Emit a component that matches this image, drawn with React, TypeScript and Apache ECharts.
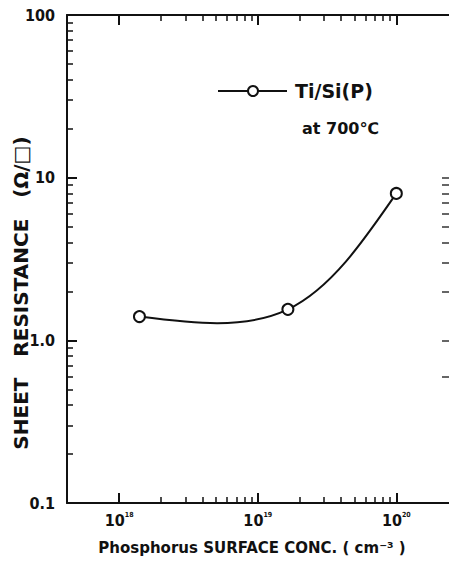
import React, { useEffect, useRef } from "react";
import * as echarts from "echarts";

// Data
const conc = [1.4e18, 1.65e19, 1.0e20]; // cm^-3
const resistance = [1.4, 1.55, 8.0]; // ohm/sq

// Axis ticks
const xMajorTicks = [1e18, 1e19, 1e20];
const xMinorTicks: number[] = [];
[1e18, 1e19].forEach((d) => {
  for (let k = 2; k <= 9; k++) xMinorTicks.push(k * d);
});
const yMajorTicks = [0.1, 1, 10, 100];
const yMinorTicks: number[] = [];
[0.1, 1, 10].forEach((d) => {
  for (let k = 2; k <= 9; k++) yMinorTicks.push(k * d);
});
const yRightTicks = [10, 9, 8, 7, 6, 5, 4, 3, 2, 1, 0.6];
const yLabelText: Record<string, string> = { "100": "100", "10": "10", "1": "1.0", "0.1": "0.1" };

const xTitle = "Phosphorus SURFACE CONC. ( cm⁻³ )";
const yTitleMain = "SHEET   RESISTANCE   (Ω/";
const yTitleBox = "□";
const yTitleEnd = ")";
const legendLabel = "Ti/Si(P)";
const legendNote = "at 700℃";

const X_MIN = 4.2e17;
const X_MAX = 2.4e20;
const FONT = "'DejaVu Sans', sans-serif";
const FONT_C = "'DejaVu Sans Condensed', 'DejaVu Sans', sans-serif";
const INK = "#111";

// Smooth curve through the measured points: uniform Hermite (Catmull-Rom)
// spline with natural end conditions, computed in pixel space.
function renderCurve(_params: any, api: any) {
  const P = conc.map((c, i) => api.coord([c, resistance[i]]) as number[]);
  const n = P.length;
  const m: number[][] = [];
  for (let i = 1; i < n - 1; i++) {
    m[i] = [(P[i + 1][0] - P[i - 1][0]) / 2, (P[i + 1][1] - P[i - 1][1]) / 2];
  }
  m[0] = [(3 * (P[1][0] - P[0][0]) - m[1][0]) / 2, (3 * (P[1][1] - P[0][1]) - m[1][1]) / 2];
  m[n - 1] = [
    (3 * (P[n - 1][0] - P[n - 2][0]) - m[n - 2][0]) / 2,
    (3 * (P[n - 1][1] - P[n - 2][1]) - m[n - 2][1]) / 2,
  ];
  let d = `M${P[0][0]},${P[0][1]}`;
  for (let i = 0; i < n - 1; i++) {
    const c1 = [P[i][0] + m[i][0] / 3, P[i][1] + m[i][1] / 3];
    const c2 = [P[i + 1][0] - m[i + 1][0] / 3, P[i + 1][1] - m[i + 1][1] / 3];
    d += ` C${c1[0]},${c1[1]} ${c2[0]},${c2[1]} ${P[i + 1][0]},${P[i + 1][1]}`;
  }
  return {
    type: "path",
    shape: { pathData: d },
    style: { fill: "none", stroke: INK, lineWidth: 2 },
  };
}

export default function App() {
  const ref = useRef<HTMLDivElement>(null);
  useEffect(() => {
    if (!ref.current) return;
    const chart = echarts.init(ref.current, null, { renderer: "svg" });
    const xBase = {
      type: "log" as const,
      min: X_MIN,
      max: X_MAX,
      splitLine: { show: false },
    };
    const yBase = {
      type: "log" as const,
      min: 0.1,
      max: 100,
      splitLine: { show: false },
    };
    chart.setOption({
      animation: false,
      backgroundColor: "#fff",
      grid: { left: 67, top: 15, right: 0, bottom: 59, containLabel: false },
      xAxis: [
        {
          ...xBase,
          position: "bottom",
          axisLine: { show: true, lineStyle: { color: INK, width: 2 } },
          axisTick: { show: true, inside: true, length: 10, lineStyle: { color: INK, width: 2 }, customValues: xMajorTicks },
          axisLabel: {
            show: true,
            customValues: xMajorTicks,
            margin: 8,
            fontSize: 16,
            formatter: (v: number) => `{b|10}{s|${Math.round(Math.log10(v))}}`,
            rich: {
              b: { fontSize: 16, fontFamily: FONT_C, fontWeight: "bold", color: INK },
              s: { fontSize: 7, fontFamily: FONT_C, color: INK, fontWeight: "bold", padding: [0, 0, 12, 0] },
            },
          },
        },
        {
          ...xBase,
          position: "bottom",
          axisLine: { show: false },
          axisTick: { show: true, inside: true, length: 6, lineStyle: { color: INK, width: 1.5 }, customValues: xMinorTicks },
          axisLabel: { show: false },
        },
        {
          ...xBase,
          position: "top",
          axisLine: { show: true, lineStyle: { color: INK, width: 2 } },
          axisTick: { show: true, inside: true, length: 10, lineStyle: { color: INK, width: 2 }, customValues: xMajorTicks },
          axisLabel: { show: false },
        },
        {
          ...xBase,
          position: "top",
          axisLine: { show: false },
          axisTick: { show: true, inside: true, length: 6, lineStyle: { color: INK, width: 1.5 }, customValues: xMinorTicks },
          axisLabel: { show: false },
        },
      ],
      yAxis: [
        {
          ...yBase,
          position: "left",
          axisLine: { show: true, lineStyle: { color: INK, width: 2 } },
          axisTick: { show: true, inside: true, length: 10, lineStyle: { color: INK, width: 2 }, customValues: yMajorTicks },
          axisLabel: {
            show: true,
            customValues: yMajorTicks,
            margin: 12,
            fontSize: 16,
            fontWeight: "bold",
            fontFamily: FONT_C,
            color: INK,
            formatter: (v: number) => yLabelText[String(+v.toPrecision(3))] ?? String(v),
          },
        },
        {
          ...yBase,
          position: "left",
          axisLine: { show: false },
          axisTick: { show: true, inside: true, length: 6, lineStyle: { color: INK, width: 1.5 }, customValues: yMinorTicks },
          axisLabel: { show: false },
        },
        {
          ...yBase,
          position: "right",
          axisLine: { show: false },
          axisTick: { show: true, inside: true, length: 7, lineStyle: { color: "#333", width: 1.5 }, customValues: yRightTicks },
          axisLabel: { show: false },
        },
      ],
      graphic: [
        { type: "line", shape: { x1: 218, y1: 91, x2: 287, y2: 91 }, style: { stroke: INK, lineWidth: 2 } },
        { type: "circle", shape: { cx: 253, cy: 91, r: 5 }, style: { fill: "#fff", stroke: INK, lineWidth: 2 } },
        { type: "text", x: 295, y: 91, style: { text: legendLabel, fontSize: 19, fontWeight: "bold", fontFamily: FONT, fill: INK, verticalAlign: "middle" } },
        { type: "text", x: 302, y: 128, style: { text: legendNote, fontSize: 16, fontWeight: "bold", fontFamily: FONT, fill: INK, verticalAlign: "middle" } },
        {
          type: "text",
          x: 252,
          y: 548,
          style: { text: xTitle, fontSize: 15, fontWeight: "bold", fontFamily: FONT, fill: INK, align: "center", verticalAlign: "middle" },
        },
        {
          type: "text",
          x: 21,
          y: 293,
          rotation: Math.PI / 2,
          style: {
            text: `{b|${yTitleMain}}{n|${yTitleBox}}{b|${yTitleEnd}}`,
            fontSize: 20,
            fontWeight: "bold",
            fontFamily: FONT,
            fill: INK,
            align: "center",
            verticalAlign: "middle",
            rich: {
              b: { fontSize: 20, fontWeight: "bold", fontFamily: FONT, fill: INK },
              n: { fontSize: 20, fontWeight: "normal", fontFamily: "'DejaVu Sans'", fill: INK },
            },
          },
        },
      ],
      series: [
        {
          type: "custom",
          name: "curve",
          xAxisIndex: 0,
          yAxisIndex: 0,
          data: [0],
          renderItem: renderCurve,
          z: 2,
          silent: true,
        },
        {
          type: "scatter",
          name: legendLabel,
          xAxisIndex: 0,
          yAxisIndex: 0,
          data: conc.map((c, i) => [c, resistance[i]]),
          symbol: "circle",
          symbolSize: 11,
          itemStyle: { color: "#fff", borderColor: INK, borderWidth: 2, opacity: 1 },
          z: 3,
        },
      ],
    });
    return () => chart.dispose();
  }, []);
  return (
    <div
      ref={ref}
      style={{ position: "fixed", left: 0, top: 0, width: 449, height: 562, background: "#fff" }}
    />
  );
}
